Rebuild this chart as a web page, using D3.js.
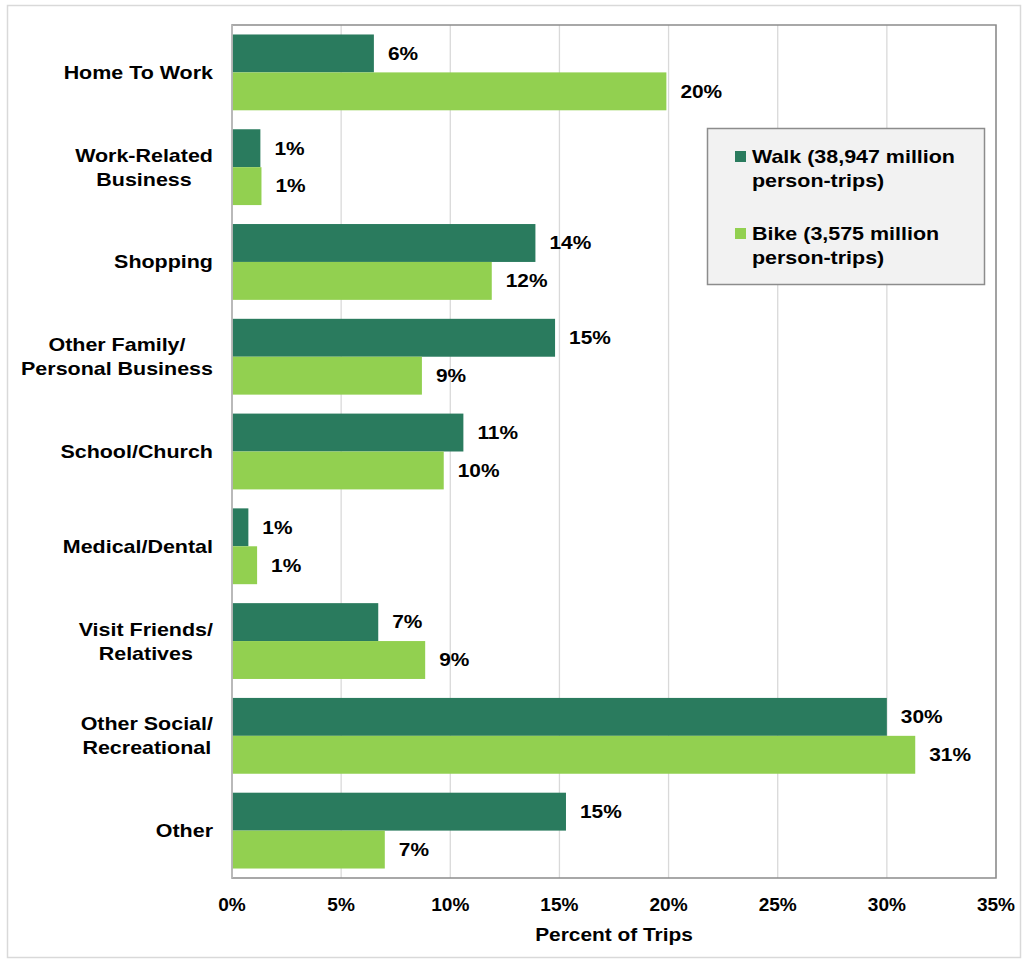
<!DOCTYPE html>
<html><head><meta charset="utf-8">
<script src="https://cdn.jsdelivr.net/npm/d3@7"></script>
<style>body{margin:0;background:#fff;} text{font-family:Arial,"Liberation Sans",sans-serif;font-weight:bold;fill:#000;}</style>
</head><body>
<svg id="c" width="1028" height="963"></svg>
<script>
const categories = [["Home To Work"],["Work-Related","Business"],["Shopping"],["Other Family/","Personal Business"],["School/Church"],["Medical/Dental"],["Visit Friends/","Relatives"],["Other Social/","Recreational"],["Other"]];
const walkValues = [6.5, 1.3, 13.9, 14.8, 10.6, 0.75, 6.7, 30.0, 15.3];
const bikeValues = [19.9, 1.35, 11.9, 8.7, 9.7, 1.15, 8.85, 31.3, 7.0];
const walkLabels = ["6%","1%","14%","15%","11%","1%","7%","30%","15%"];
const bikeLabels = ["20%","1%","12%","9%","10%","1%","9%","31%","7%"];
const xTicks = [0,5,10,15,20,25,30,35];
const seriesNames = ["Walk (38,947 million|person-trips)","Bike (3,575 million|person-trips)"];
const colors = ["#2a7b5e","#92d050"];

const SX = 1.16;
const svg = d3.select("#c");
svg.append("rect").attr("x",7.5).attr("y",5.5).attr("width",1013).attr("height",952).attr("fill","#fff").attr("stroke","#d9d9d9").attr("stroke-width",1.5);

const L=232,R=996,T=25,B=878;
const x = d3.scaleLinear().domain([0,35]).range([L,R]);
const y = d3.scaleBand().domain(d3.range(categories.length)).range([T,B]).paddingInner(0.2).paddingOuter(0.1);

function put(sel, px, py, sx){
  return sel.attr("transform", `translate(${px},${py}) scale(${sx||SX},1)`);
}

// gridlines
svg.append("g").selectAll("line").data(xTicks.slice(1)).join("line")
  .attr("x1",d=>x(d)).attr("x2",d=>x(d)).attr("y1",T).attr("y2",B)
  .attr("stroke","#d9d9d9").attr("stroke-width",1.3);

// bars
const half = y.bandwidth()/2;
const g = svg.append("g");
g.selectAll(".w").data(walkValues).join("rect")
  .attr("x",L).attr("y",(d,i)=>y(i)).attr("width",d=>x(d)-L).attr("height",half).attr("fill",colors[0]);
g.selectAll(".b").data(bikeValues).join("rect")
  .attr("x",L).attr("y",(d,i)=>y(i)+half).attr("width",d=>x(d)-L).attr("height",half).attr("fill",colors[1]);

walkValues.forEach((d,i)=>{
  put(g.append("text"), x(d)+14, y(i)+half/2).attr("dy","0.35em").attr("font-size",18).text(walkLabels[i]);
});
bikeValues.forEach((d,i)=>{
  put(g.append("text"), x(d)+14, y(i)+half*1.5).attr("dy","0.35em").attr("font-size",18).text(bikeLabels[i]);
});

// frame
svg.append("path").attr("d",`M${L},${T}H${R}V${B}H${L}Z`).attr("fill","none").attr("stroke","#8c8c8c").attr("stroke-width",1.5);
svg.append("line").attr("x1",L).attr("x2",L).attr("y1",T).attr("y2",B).attr("stroke","#bfbfbf").attr("stroke-width",1.5);

// category labels: block right-aligned, lines centered within block
const cl = svg.append("g");
categories.forEach((lines,i)=>{
  const cy = y(i)+y.bandwidth()/2;
  const texts = lines.map((ln,j)=>cl.append("text").attr("dy","0.35em").attr("font-size",18.5).attr("text-anchor","middle").text(ln));
  const maxW = d3.max(texts, t=>t.node().getComputedTextLength()) * SX;
  const cx = 213 - maxW/2;
  texts.forEach((t,j)=>put(t, cx, cy+(j-(lines.length-1)/2)*24));
});

// x axis ticks
xTicks.forEach(d=>{
  put(svg.append("text"), x(d), 905, 1.06).attr("dy","0.35em").attr("text-anchor","middle").attr("font-size",18).text(d+"%");
});
put(svg.append("text"), 614, 935).attr("dy","0.35em").attr("text-anchor","middle").attr("font-size",18).text("Percent of Trips");

// legend
const lg = svg.append("g");
lg.append("rect").attr("x",707.5).attr("y",128.5).attr("width",277).attr("height",156).attr("fill","#f2f2f2").attr("stroke","#8c8c8c").attr("stroke-width",1.5);
seriesNames.forEach((s,i)=>{
  const by = 157 + i*77;
  lg.append("rect").attr("x",735).attr("y",by-6).attr("width",11).attr("height",11).attr("fill",colors[i]);
  s.split("|").forEach((ln,j)=>{
    put(lg.append("text"), 752, by+j*24).attr("dy","0.35em").attr("font-size",18.5).text(ln);
  });
});
</script>
</body></html>
